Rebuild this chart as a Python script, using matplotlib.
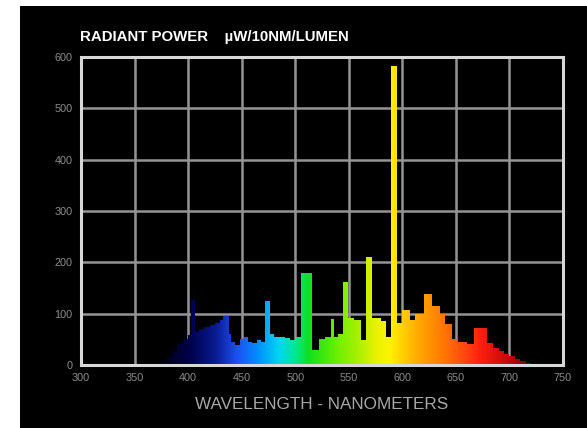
import numpy as np
import matplotlib
matplotlib.use("Agg")
import matplotlib.pyplot as plt
from matplotlib.colors import LinearSegmentedColormap
from matplotlib.patches import Rectangle

# step spectrum: left edge of each band (nm) and its radiant power
wavelength = [370, 375, 380, 385, 390, 395, 400, 403, 406, 410, 415, 420, 425,
              430, 433, 438, 440, 444, 448, 452, 456, 460, 464, 468, 472, 476,
              480, 485, 490, 495, 500, 505, 516, 522, 528, 533, 536, 540, 545,
              549, 555, 561, 566, 572, 580, 585, 589, 595, 600, 607, 612, 620,
              628, 635, 640, 646, 652, 660, 667, 679, 685, 690, 695, 700, 705,
              710, 715, 720, 725]
power = [0, 5, 15, 28, 40, 50, 58, 127, 65, 70, 75, 78, 82,
         88, 95, 60, 45, 38, 50, 55, 45, 42, 48, 45, 125, 60,
         55, 55, 52, 48, 55, 180, 30, 50, 55, 90, 55, 60, 162,
         92, 88, 49, 210, 92, 85, 55, 582, 82, 107, 88, 100, 138,
         115, 100, 80, 50, 45, 40, 72, 42, 33, 28, 22, 18, 12,
         8, 4, 2, 0]

x_ticks = [300, 350, 400, 450, 500, 550, 600, 650, 700, 750]
y_ticks = [0, 100, 200, 300, 400, 500, 600]

spectrum_stops = [
    (370, "#000010"), (400, "#000048"), (425, "#081a90"), (445, "#1e50f0"),
    (465, "#0090ff"), (485, "#00d8f0"), (500, "#00e890"), (512, "#10e020"),
    (540, "#70f000"), (560, "#b0f000"), (575, "#e8f200"), (588, "#fff400"),
    (600, "#ffd000"), (615, "#ffa800"), (635, "#ff8000"), (655, "#ff5010"),
    (672, "#ff2010"), (700, "#c00808"), (725, "#500000"),
]

W, H = 587, 428
fig = plt.figure(figsize=(W / 100, H / 100), dpi=100, facecolor="white")
fig.add_artist(Rectangle((20 / W, 0), 1, 1 - 6 / H, transform=fig.transFigure,
                         facecolor="black", edgecolor="none", zorder=-5))

ax = fig.add_axes([81 / W, 1 - 365 / H, (563 - 81) / W, (365 - 57) / H])
ax.set_zorder(2)
ax.set_facecolor("black")

# spectrum outline, filled with a wavelength gradient clipped to it
wl = np.array(wavelength, dtype=float)
pw = np.array(power, dtype=float)
poly = ax.fill_between(wl, pw, step="post", color="none", lw=0, zorder=3)

lo, hi = spectrum_stops[0][0], spectrum_stops[-1][0]
cmap = LinearSegmentedColormap.from_list(
    "spec", [((w - lo) / (hi - lo), c) for w, c in spectrum_stops])
grad = np.linspace(0, 1, 512).reshape(1, -1)
img = ax.imshow(grad, cmap=cmap, extent=[lo, hi, 0, 600], aspect="auto",
                interpolation="bicubic", zorder=3)
img.set_clip_path(poly.get_paths()[0], transform=ax.transData)
ax.set_xlim(300, 750)
ax.set_ylim(0, 600)

ax.set_xticks(x_ticks)
ax.set_yticks(y_ticks)
ax.grid(True, color="#949494", lw=1.8, zorder=1)
ax.set_axisbelow(True)
for s in ax.spines.values():
    s.set_color("#d8d8d8")
    s.set_linewidth(2.2)
    s.set_zorder(4)
ax.tick_params(length=0, colors="#8c8c8c", labelsize=7.8, pad=6)
for lab in ax.get_xticklabels() + ax.get_yticklabels():
    lab.set_family("Liberation Sans")

ax.set_xlabel("WAVELENGTH - NANOMETERS", color="#a8a8a8", fontsize=12.3,
              family="Liberation Sans", labelpad=10)
fig.text(80 / W, 1 - 37 / H, "RADIANT POWER    \u00b5W/10NM/LUMEN", color="white",
         fontsize=10.8, fontweight="bold", family="Liberation Sans",
         ha="left", va="center")

fig.savefig("out.png", dpi=100, facecolor="white")
